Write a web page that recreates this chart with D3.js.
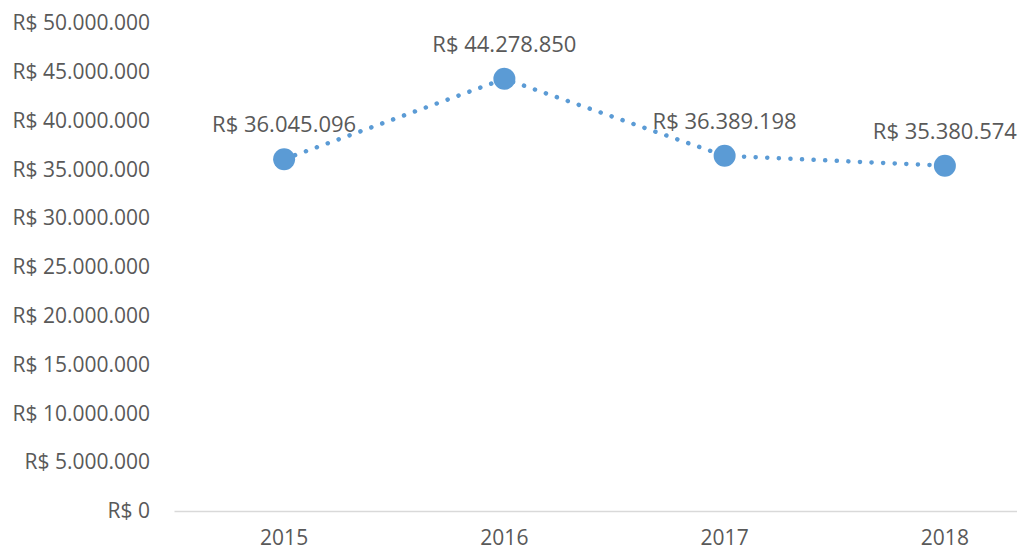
<!DOCTYPE html>
<html>
<head>
<meta charset="utf-8">
<script src="https://cdn.jsdelivr.net/npm/d3@7"></script>
<style>
  body { margin: 0; background: #fff; }
  svg text { font-family: "Open Sans", sans-serif; fill: #595959; }
</style>
</head>
<body>
<div id="chart"></div>
<script>
// dados
const years = ['2015', '2016', '2017', '2018'];
const totals = [36045096, 44278850, 36389198, 35380574];
const yTicks = [0, 5000000, 10000000, 15000000, 20000000, 25000000, 30000000, 35000000, 40000000, 45000000, 50000000];

const width = 1017, height = 551;
const margin = {top: 23, right: -38, bottom: 40, left: 174};

const svg = d3.select('#chart').append('svg')
  .attr('width', width)
  .attr('height', height);

const fmt = v => 'R$ ' + d3.format(',')(v).replace(/,/g, '.');

const x = d3.scaleBand().domain(years).range([margin.left, width - margin.right]);
const y = d3.scaleLinear().domain([0, 50000000]).range([height - margin.bottom, margin.top]);

// eixo y (somente rótulos)
const yAxis = svg.append('g')
  .attr('transform', 'translate(' + (margin.left - 24) + ',0)')
  .call(d3.axisLeft(y).tickValues(yTicks).tickFormat(fmt).tickSize(0).tickPadding(0));
yAxis.select('.domain').remove();
yAxis.selectAll('text').style('font-size', '21px').attr('fill', '#595959');

// eixo x
const xAxis = svg.append('g')
  .attr('transform', 'translate(0,' + y(0) + ')')
  .call(d3.axisBottom(x).tickSize(0).tickPadding(19));
xAxis.select('.domain').attr('stroke', '#d9d9d9').attr('stroke-width', 1.5);
xAxis.selectAll('text').style('font-size', '21px').attr('fill', '#595959');

const cx = d => x(d) + x.bandwidth() / 2;

const line = d3.line()
  .x((d, i) => cx(years[i]))
  .y(d => y(d));

svg.append('path')
  .datum(totals)
  .attr('fill', 'none')
  .attr('stroke', '#5b9bd5')
  .attr('stroke-width', 4.5)
  .attr('stroke-linecap', 'round')
  .attr('stroke-dasharray', '0.1 11.5')
  .attr('d', line);

svg.selectAll('circle.pt')
  .data(totals)
  .enter().append('circle')
  .attr('class', 'pt')
  .attr('cx', (d, i) => cx(years[i]))
  .attr('cy', d => y(d))
  .attr('r', 11)
  .attr('fill', '#5b9bd5');

svg.selectAll('text.lbl')
  .data(totals)
  .enter().append('text')
  .attr('class', 'lbl')
  .attr('x', (d, i) => cx(years[i]))
  .attr('y', d => y(d) - 27)
  .attr('text-anchor', 'middle')
  .style('font-size', '22px')
  .text(fmt);
</script>
</body>
</html>
